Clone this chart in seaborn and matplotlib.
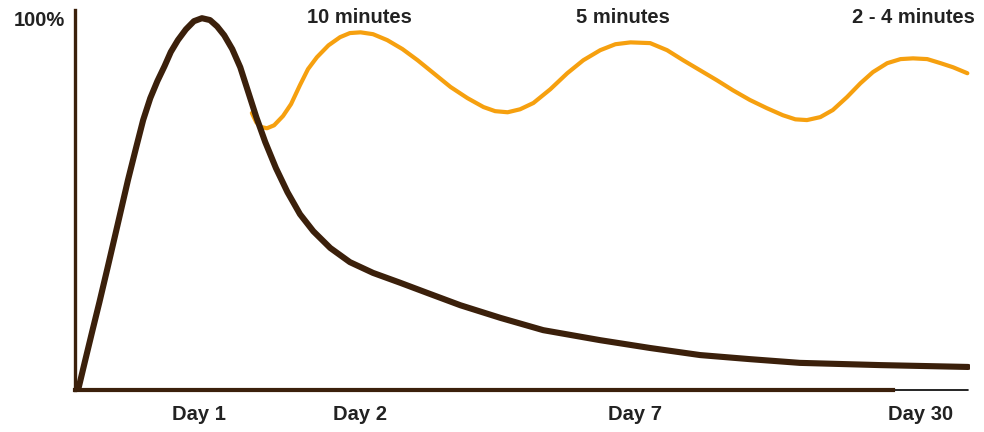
import matplotlib
matplotlib.use("Agg")
import matplotlib.pyplot as plt
import seaborn as sns
import pandas as pd

# time axis in arbitrary units (0 = learning, 100 = day 30), retention in %
brown_t = [0.1, 0.9, 1.7, 2.5, 3.4, 4.5, 5.7, 6.6, 7.4, 8.2, 9.0, 9.8, 10.5, 11.3,
           12.2, 13.1, 14.0, 14.9, 15.7, 16.5, 17.4, 18.3, 19.2, 20.1, 21.1, 22.3,
           23.6, 25.0, 26.5, 28.4, 30.6, 33.2, 36.3, 39.3, 43.0, 47.5, 52.3, 58.7,
           64.3, 69.9, 75.5, 81.1, 90.1, 100]
brown_r = [0, 8.0, 15.9, 23.7, 32.8, 44.1, 56.5, 65.1, 72.6, 78.5, 83.1, 87.1, 90.9,
           94.1, 97.0, 99.2, 100, 99.5, 97.8, 95.4, 91.7, 86.8, 80.1, 73.4, 66.7,
           59.7, 53.2, 47.3, 42.7, 38.2, 34.4, 31.5, 28.8, 26.1, 22.8, 19.4, 16.1,
           13.4, 11.3, 9.4, 8.3, 7.3, 6.7, 6.2]

review_t = [19.6, 20.1, 20.7, 21.3, 22.1, 23.1, 24.0, 25.0, 25.9, 26.9, 28.2, 29.5,
            30.6, 31.8, 33.2, 34.8, 36.5, 38.2, 40.0, 41.9, 43.8, 45.6, 46.9, 48.3,
            49.7, 51.2, 53.1, 55.0, 56.8, 58.7, 60.4, 62.1, 64.3, 66.2, 68.0, 69.9,
            71.8, 73.6, 75.5, 77.4, 79.2, 80.6, 81.9, 83.4, 84.8, 86.4, 87.9, 89.3,
            90.9, 92.4, 93.8, 95.4, 96.9, 98.3, 99.9]
review_r = [74.5, 72.0, 70.7, 70.4, 71.2, 73.7, 76.9, 82.0, 86.3, 89.5, 92.7, 94.9,
            96.0, 96.2, 95.7, 94.1, 91.7, 88.7, 85.2, 81.5, 78.5, 76.1, 75.0, 74.7,
            75.5, 77.2, 80.9, 85.2, 88.7, 91.4, 93.0, 93.5, 93.3, 91.4, 88.7, 86.0,
            83.3, 80.6, 78.0, 75.8, 73.9, 72.8, 72.6, 73.4, 75.3, 78.8, 82.5, 85.5,
            87.9, 89.0, 89.2, 89.0, 87.9, 86.8, 85.2]

day_pos = [13.7, 31.7, 62.6, 94.6]
day_labels = ["Day 1", "Day 2", "Day 7", "Day 30"]

review_pos = [31.7, 61.3, 93.8]
review_labels = ["10 minutes", "5 minutes", "2 - 4 minutes"]

BROWN = "#3b200b"
ORANGE = "#f6a00f"
TEXT = "#222222"

sns.set_style("white")
plt.rcParams["font.family"] = ["Liberation Sans", "DejaVu Sans"]

fig = plt.figure(figsize=(9.84, 4.32), dpi=100)
ax = fig.add_axes([0.0762, 0.0972, 0.9096, 0.8796])

forget = pd.DataFrame({"t": brown_t, "r": brown_r})
review = pd.DataFrame({"t": review_t, "r": review_r})

sns.lineplot(data=review, x="t", y="r", ax=ax, color=ORANGE, linewidth=3.0,
             sort=False, estimator=None, solid_capstyle="round",
             solid_joinstyle="round")
sns.lineplot(data=forget, x="t", y="r", ax=ax, color=BROWN, linewidth=4.4,
             sort=False, estimator=None, solid_capstyle="round",
             solid_joinstyle="round", zorder=3)

ax.set_xlim(-0.25, 100.2)
ax.set_ylim(0, 102.2)

for s in ["top", "right"]:
    ax.spines[s].set_visible(False)
ax.spines["left"].set_color(BROWN)
ax.spines["left"].set_linewidth(2.4)
ax.spines["bottom"].set_color(BROWN)
ax.spines["bottom"].set_linewidth(3.0)
ax.spines["bottom"].set_bounds(-0.25, 91.5)
# thin black end segment of the time axis
ax.plot([91.5, 100], [0.1, 0.1], color="black", linewidth=1.2, clip_on=False)

ax.set_xlabel("")
ax.set_ylabel("")
ax.set_xticks(day_pos)
ax.set_xticklabels(day_labels)
ax.set_yticks([100])
ax.set_yticklabels(["100%"])
ax.tick_params(axis="both", length=0, labelsize=14.5, colors=TEXT)
ax.tick_params(axis="x", pad=11)
ax.tick_params(axis="y", pad=7)
for lab in ax.get_xticklabels() + ax.get_yticklabels():
    lab.set_fontweight("bold")

for pos, lab in zip(review_pos, review_labels):
    ax.text(pos, 100.3, lab, ha="center", va="center", fontsize=14.5,
            fontweight="bold", color=TEXT, clip_on=False)

fig.savefig("out.png", dpi=100, facecolor="white")
